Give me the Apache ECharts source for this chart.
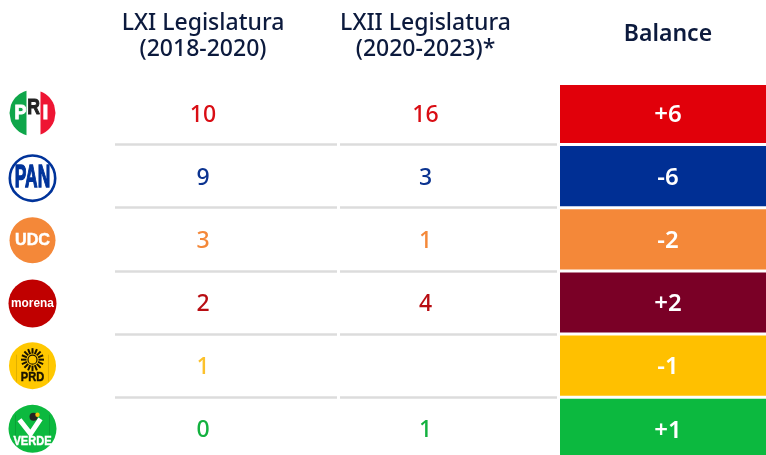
<!DOCTYPE html>
<html>
<head>
<meta charset="UTF-8">
<title>Legislatura</title>
<script src="https://cdn.jsdelivr.net/npm/echarts@6/dist/echarts.min.js"></script>
<style>
html,body{margin:0;padding:0;background:#fff;height:455px;overflow:hidden}
#main{width:766px;height:470px}
</style>
</head>
<body>
<div id="main"></div>
<script>
var parties = ['PRI', 'PAN', 'UDC', 'morena', 'PRD', 'VERDE'];
var lxi = [10, 9, 3, 2, 1, 0];
var lxii = [16, 3, 1, 4, null, 1];
var balance = [6, -6, -2, 2, -1, 1];
var partyColors = ['#e1000a', '#002f94', '#f48839', '#7a0026', '#ffc000', '#0cb93f'];
var textColors = ['#d90d14', '#0b3390', '#f48839', '#b80d12', '#fcc12c', '#13b13f'];
var headers = ['LXI Legislatura\n(2018-2020)', 'LXII Legislatura\n(2020-2023)*', 'Balance'];

var FONT = '"Noto Sans", sans-serif';
var LOGO_FONT = '"Liberation Sans", sans-serif';
var NAVY = '#0c1a3d';
var TEXT_SHIFT = 23; // los numeros no van centrados sobre la linea
var BALANCE_SHIFT = 5;

function chord(cx, cy, r, x0, x1, fill) {
    // banda vertical dentro del circulo
    var pts = [], i, x;
    for (i = 0; i <= 12; i++) {
        x = x0 + (x1 - x0) * i / 12;
        pts.push([x, cy - Math.sqrt(Math.max(0, r * r - (x - cx) * (x - cx)))]);
    }
    for (i = 12; i >= 0; i--) {
        x = x0 + (x1 - x0) * i / 12;
        pts.push([x, cy + Math.sqrt(Math.max(0, r * r - (x - cx) * (x - cx)))]);
    }
    return {type: 'polygon', shape: {points: pts}, style: {fill: fill}};
}

function logoText(t, x, y, size, color, sx, heavy) {
    return {
        type: 'text', x: x, y: y, scaleX: sx || 1,
        style: {
            text: t, x: 0, y: 0, fill: color, align: 'center', verticalAlign: 'middle',
            stroke: heavy ? color : null, lineWidth: heavy || 0,
            font: 'bold ' + size + 'px ' + LOGO_FONT
        }
    };
}

function circle(cx, cy, r, fill) {
    return {type: 'circle', shape: {cx: cx, cy: cy, r: r}, style: {fill: fill}};
}

function vline(x, y1, y2, color) {
    return {type: 'line', shape: {x1: x, y1: y1, x2: x, y2: y2}, style: {stroke: color, lineWidth: 0.8}};
}

function logo(name, cx, cy) {
    var out = [];
    if (name === 'PRI') {
        out.push(circle(cx, cy, 23, '#fff'),
            chord(cx, cy, 23, cx - 23, cx - 6, '#0fa64a'),
            chord(cx, cy, 23, cx + 8, cx + 23, '#ee1533'),
            logoText('P', cx - 12, cy, 21, '#fff', 0.85, 1),
            logoText('R', cx + 1, cy - 5, 22, '#222', 0.8, 1),
            logoText('I', cx + 13, cy, 21, '#fff', 1, 1));
    } else if (name === 'PAN') {
        cy += 2;
        out.push(
            {type: 'circle', shape: {cx: cx, cy: cy, r: 22.7}, style: {fill: '#fff', stroke: '#00339a', lineWidth: 2.6}},
            logoText('PAN', cx, cy, 31, '#00339a', 0.56, 1.4));
    } else if (name === 'UDC') {
        cy += 1;
        out.push(circle(cx, cy, 23, '#f48839'), logoText('UDC', cx, cy, 17, '#fff', 0.95, 0.5));
    } else if (name === 'morena') {
        cy += 1;
        out.push(circle(cx, cy, 24, '#c00000'), logoText('morena', cx, cy, 12.5, '#fff', 0.95));
    } else if (name === 'PRD') {
        out.push(circle(cx, cy, 23.5, '#ffc800'),
            vline(cx - 16, cy - 11, cy + 16, '#d9a800'), vline(cx + 16, cy - 11, cy + 16, '#d9a800'));
        for (var i = 0; i < 16; i++) {
            var a = i * Math.PI / 8;
            out.push({
                type: 'line',
                shape: {
                    x1: cx + 6 * Math.cos(a), y1: cy - 6 + 6 * Math.sin(a),
                    x2: cx + 11.5 * Math.cos(a), y2: cy - 6 + 11.5 * Math.sin(a)
                },
                style: {stroke: '#1a1400', lineWidth: 2}
            });
        }
        out.push(
            {type: 'circle', shape: {cx: cx, cy: cy - 6, r: 4.5}, style: {fill: '#ffc800', stroke: '#1a1400', lineWidth: 1.2}},
            logoText('PRD', cx, cy + 12, 13, '#1a1400', 0.85, 0.5));
    } else {
        out.push(circle(cx, cy, 24, '#0cb93f'),
            vline(cx - 17, cy - 14, cy + 16, '#0a9a35'), vline(cx + 17, cy - 14, cy + 16, '#0a9a35'),
            {type: 'polyline', shape: {points: [[cx - 13, cy - 9], [cx - 2, cy + 5], [cx + 8, cy - 10]]},
                style: {stroke: '#fff', lineWidth: 5, fill: 'none'}},
            circle(cx + 1, cy - 12, 4, '#222'),
            {type: 'circle', shape: {cx: cx + 5, cy: cy - 14, r: 2.2}, style: {fill: '#f4c20d'}},
            logoText('VERDE', cx, cy + 13, 13, '#fff', 0.85, 0.5));
    }
    return out;
}

function rowsOf(values) {
    return values.map(function (v, i) {
        return [0, i, v];
    }).filter(function (d) { return d[2] !== null; });
}

function textRender(params, api) {
    var idx = api.value(1);
    var p = api.coord([0, idx]);
    return {
        type: 'text',
        style: {
            text: String(api.value(2)), x: p[0] - TEXT_SHIFT, y: p[1] + 2, fill: textColors[idx],
            align: 'center', verticalAlign: 'middle', font: '500 23px ' + FONT
        }
    };
}

function balanceRender(params, api) {
    var idx = api.value(1), v = api.value(2);
    var p = api.coord([0, idx]);
    var s = api.size([1, 1]);
    var inset = idx === 0 ? 3.5 : 1.5;
    return {
        type: 'group',
        children: [{
            type: 'rect',
            shape: {x: p[0] - s[0] / 2, y: p[1] - s[1] / 2 + inset, width: s[0], height: s[1] - inset - 1.5},
            style: {fill: partyColors[idx]}
        }, {
            type: 'text',
            style: {
                text: (v > 0 ? '+' : '') + v, x: p[0] + BALANCE_SHIFT, y: p[1] + 2, fill: '#fff',
                align: 'center', verticalAlign: 'middle', font: '600 24px ' + FONT
            }
        }]
    };
}

function logoRender(params, api) {
    var idx = api.value(1);
    var p = api.coord([0, idx]);
    return {type: 'group', children: logo(parties[idx], p[0], p[1])};
}

// columnas: logos, LXI, LXII, balance
var cols = [
    {left: 0, width: 65, head: '', pad: 0},
    {left: 115, width: 222, head: headers[0], line: true, pad: [0, TEXT_SHIFT * 2, 0, 0]},
    {left: 340, width: 217, head: headers[1], line: true, pad: [0, TEXT_SHIFT * 2, 0, 0]},
    {left: 560, width: 206, head: headers[2], pad: [0, 0, 0, BALANCE_SHIFT * 2]}
];

var option = {
    animation: false,
    grid: cols.map(function (c) {
        return {left: c.left, width: c.width, top: 81.4, height: 379};
    }),
    xAxis: cols.map(function (c, i) {
        return {
            type: 'category', gridIndex: i, position: 'top', data: [c.head],
            axisLine: {show: false}, axisTick: {show: false},
            axisLabel: {
                interval: 0, margin: i === 3 ? 34 : 19, color: NAVY, fontFamily: FONT,
                fontSize: 23, fontWeight: i === 3 ? 600 : 500, lineHeight: 26,
                padding: c.pad
            }
        };
    }),
    yAxis: cols.map(function (c, i) {
        return {
            type: 'category', gridIndex: i, inverse: true, data: parties,
            axisLine: {show: false}, axisTick: {show: false}, axisLabel: {show: false},
            splitLine: {
                show: !!c.line, showMinLine: false, showMaxLine: false,
                lineStyle: {color: '#dcdcdc', width: 2.5}
            }
        };
    }),
    series: [
        {type: 'custom', xAxisIndex: 0, yAxisIndex: 0, renderItem: logoRender, data: rowsOf(lxi), clip: false},
        {type: 'custom', xAxisIndex: 1, yAxisIndex: 1, renderItem: textRender, data: rowsOf(lxi)},
        {type: 'custom', xAxisIndex: 2, yAxisIndex: 2, renderItem: textRender, data: rowsOf(lxii)},
        {type: 'custom', xAxisIndex: 3, yAxisIndex: 3, renderItem: balanceRender, data: rowsOf(balance)}
    ]
};

var myChart = echarts.init(document.getElementById('main'));
myChart.setOption(option);
</script>
</body>
</html>
